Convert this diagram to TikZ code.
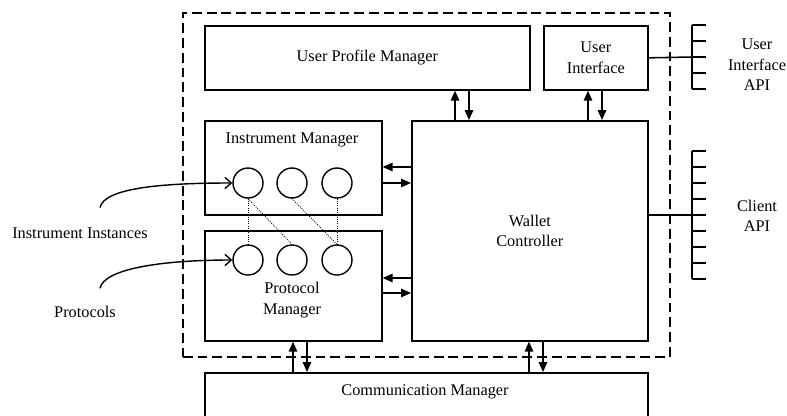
\documentclass[tikz,border=0pt]{standalone}
\usepackage{fontspec}
\setmainfont{Liberation Serif}
\usetikzlibrary{arrows.meta}

\tikzset{
  box/.style={draw, line width=1.2pt, anchor=north west, inner sep=0pt, align=center},
  frame/.style={draw, line width=1.1pt, dash pattern=on 7pt off 3.5pt, anchor=north west, inner sep=0pt},
  arr/.style={-{Triangle[length=7pt,width=6pt]}, line width=1pt},
  inst/.style={draw, circle, line width=1pt, minimum size=7.5mm, inner sep=0pt},
  link/.style={densely dotted, line width=0.6pt},
  pointer/.style={-{Straight Barb[length=4.5pt,width=8pt]}, line width=1pt},
  api/.style={line width=1.1pt}
}

\begin{document}
\begin{tikzpicture}[x=0.25mm, y=-0.25mm, font=\fontsize{11.6}{14.6}\selectfont]
  \useasboundingbox (0,0) rectangle (787,415);
  \clip (0,0) rectangle (787,415);

  % wallet boundary
  \node (W) [frame, minimum width=121.75mm, minimum height=86mm] at (182,12) {};

  % components
  \node (UPM) [box, minimum width=81.25mm, minimum height=16mm] at (204,25) {User Profile Manager};
  \node (UI) [box, minimum width=26mm, minimum height=16mm] at (543,25) {User\\Interface};
  \node (IM) [box, minimum width=44.25mm, minimum height=23.5mm] at (204,120) {};
  \node (PM) [box, minimum width=44.25mm, minimum height=27.5mm] at (204,230) {};
  \node (WC) [box, minimum width=59mm, minimum height=55mm] at (411,120) {Wallet\\Controller};
  \node (CM) [box, minimum width=110.75mm, minimum height=20mm] at (204,372) {};
  \node (IMl) at (292,140) {Instrument Manager};
  \node (PMl) [align=center] at (292,300) {Protocol\\Manager};
  \node (CMl) at (425,392) {Communication Manager};

  % instances and protocols
  \foreach \n/\x in {1/248, 2/292, 3/337} {
    \node (I\n) [inst] at (\x,183) {};
    \node (P\n) [inst] at (\x,260) {};
  }
  \draw[link] (I1.south) -- (P1.north);
  \draw[link] (I1.south) -- (P2.north);
  \draw[link] (I2.south) -- (P3.north);
  \draw[link] (I3.south) -- (P3.north);

  % arrow positions
  \foreach \n/\x in {a/455, b/469, c/588, d/602, e/293, f/307, g/529, h/543}
    \coordinate (x\n) at (\x,0);
  \foreach \n/\y in {a/167, b/183, c/278, d/293}
    \coordinate (y\n) at (0,\y);

  \draw[arr] (WC.north -| xa) -- (UPM.south -| xa);
  \draw[arr] (UPM.south -| xb) -- (WC.north -| xb);
  \draw[arr] (WC.north -| xc) -- (UI.south -| xc);
  \draw[arr] (UI.south -| xd) -- (WC.north -| xd);
  \draw[arr] (WC.west |- ya) -- (IM.east |- ya);
  \draw[arr] (IM.east |- yb) -- (WC.west |- yb);
  \draw[arr] (WC.west |- yc) -- (PM.east |- yc);
  \draw[arr] (PM.east |- yd) -- (WC.west |- yd);
  \draw[arr] (CM.north -| xe) -- (PM.south -| xe);
  \draw[arr] (PM.south -| xf) -- (CM.north -| xf);
  \draw[arr] (CM.north -| xg) -- (WC.south -| xg);
  \draw[arr] (WC.south -| xh) -- (CM.north -| xh);

  % outside labels
  \node (II) at (80,233) {Instrument Instances};
  \node (PR) at (85,312) {Protocols};
  \draw[pointer] ([xshift=5mm,yshift=3.75mm]II.north) .. controls +(4,-20) and +(-68,0) .. (I1.west);
  \draw[pointer] ([xshift=3.75mm,yshift=3.25mm]PR.north) .. controls +(4,-20) and +(-68,0) .. (P1.west);

  % APIs
  \coordinate (UA) at (692,57);
  \coordinate (CA) at (692,215);
  \draw[api] (UI.east) -- (UA);
  \draw[api] (WC.east |- CA) -- (CA);
  \draw[api] (692,25) -- (692,89);
  \foreach \y in {25,41,...,89}
    \draw[api] (692,\y) -- ++(14,0);
  \draw[api] (692,151) -- (692,279);
  \foreach \y in {151,167,...,279}
    \draw[api] (692,\y) -- ++(14,0);
  \node (UIA) [align=center] at (757,65) {User\\Interface\\API};
  \node (CAl) [align=center] at (757,216) {Client\\API};
\end{tikzpicture}
\end{document}
